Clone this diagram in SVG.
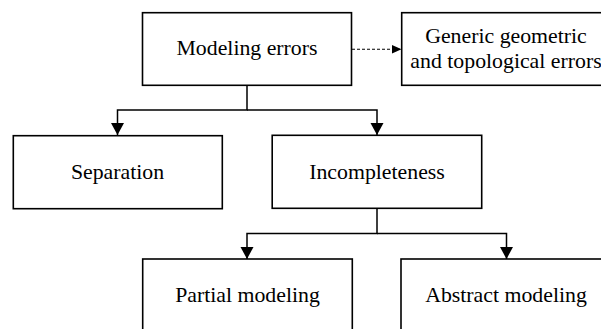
<svg xmlns="http://www.w3.org/2000/svg" width="601" height="329" viewBox="0 0 601 329">
<style>
.box{fill:#fff;stroke:#000;stroke-width:1.6}
.lbl{font-family:"Liberation Serif","Times New Roman",serif;font-size:21.8px;fill:#000;text-anchor:middle}
.ln{fill:none;stroke:#000;stroke-width:1.5}
.dash{fill:none;stroke:#000;stroke-width:1.1;stroke-dasharray:3 2}
</style>
<defs>
<marker id="ah" markerUnits="userSpaceOnUse" markerWidth="14" markerHeight="14" refX="12" refY="6.5" orient="auto">
<path d="M0,0 L12,6.5 L0,13 Z" fill="#000"/>
</marker>
<marker id="ahs" markerUnits="userSpaceOnUse" markerWidth="11" markerHeight="10" refX="10" refY="4.5" orient="auto">
<path d="M0,0 L10,4.5 L0,9 Z" fill="#000"/>
</marker>
</defs>
<g id="connectors">
<path class="ln" d="M247,85.5 V110 H117.5 V135" marker-end="url(#ah)"/>
<path class="ln" d="M247,110 H377 V135" marker-end="url(#ah)"/>
<path class="ln" d="M377,208.5 V233.5 H247 V259" marker-end="url(#ah)"/>
<path class="ln" d="M377,233.5 H506.5 V259" marker-end="url(#ah)"/>
<path class="dash" d="M352,49.3 H401.5" marker-end="url(#ahs)"/>
</g>
<g id="modeling-errors">
<rect class="box" x="142.5" y="12.7" width="209" height="72.6"/>
<text class="lbl" x="247" y="55">Modeling errors</text>
</g>
<g id="generic-errors">
<rect class="box" x="401.7" y="12.7" width="210" height="72.6"/>
<text class="lbl" x="506" y="43.3">Generic geometric</text>
<text class="lbl" x="506" y="68.3">and topological errors</text>
</g>
<g id="separation">
<rect class="box" x="13.3" y="135.7" width="209" height="73"/>
<text class="lbl" x="117.5" y="179">Separation</text>
</g>
<g id="incompleteness">
<rect class="box" x="272.2" y="135.3" width="209.5" height="73"/>
<text class="lbl" x="377" y="179">Incompleteness</text>
</g>
<g id="partial-modeling">
<rect class="box" x="142.7" y="259" width="209.6" height="73"/>
<text class="lbl" x="247.5" y="301.5">Partial modeling</text>
</g>
<g id="abstract-modeling">
<rect class="box" x="401" y="259" width="210" height="73"/>
<text class="lbl" x="506" y="301.5">Abstract modeling</text>
</g>
</svg>
